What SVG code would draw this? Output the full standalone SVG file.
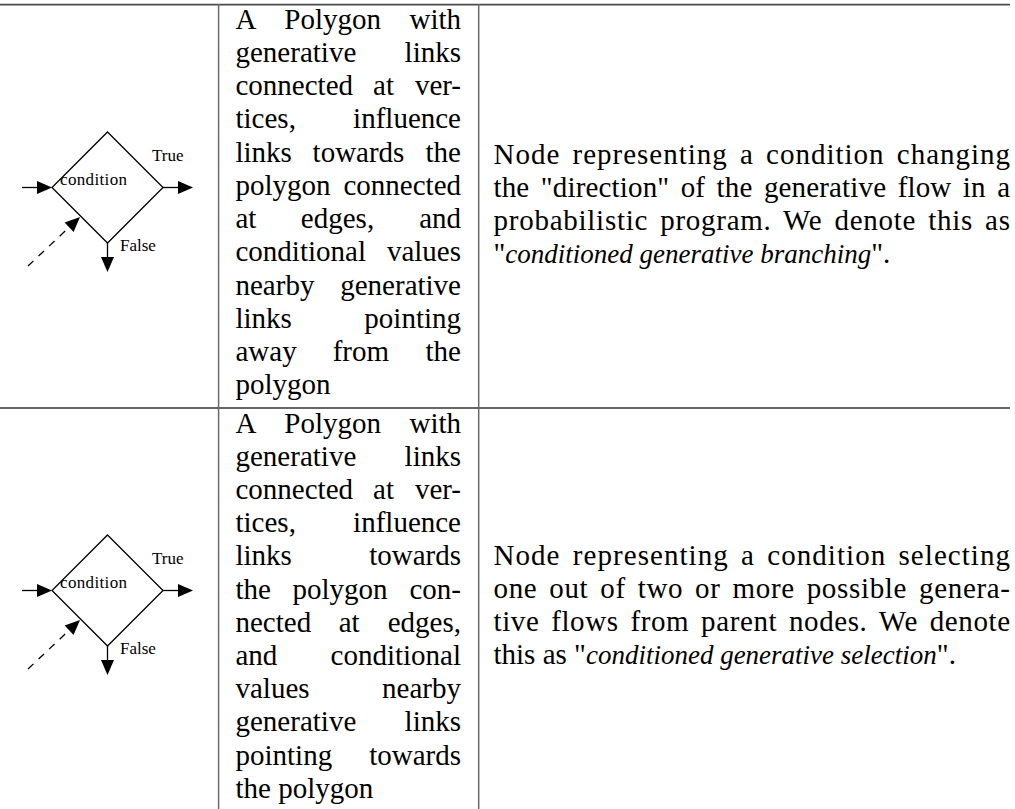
<svg xmlns="http://www.w3.org/2000/svg" width="1015" height="809" viewBox="0 0 1015 809">
  <style>
    .t { font-family: "Liberation Serif", "Times New Roman", serif; font-size: 29px; fill: #000; }
    .e { text-anchor: end; }
    .m { text-anchor: middle; }
    .lbl { font-family: "Liberation Serif", "Times New Roman", serif; font-size: 17px; fill: #000; }
    .it { font-style: italic; font-size: 27px; }
    .rule { stroke: #4a4a4a; stroke-width: 1.6; fill: none; }
    .vrule { stroke: #6a6a6a; stroke-width: 1.5; fill: none; }
    .shape { fill: none; stroke: #000; stroke-width: 1.3; }
    .link { fill: none; stroke: #000; stroke-width: 1.3; marker-end: url(#head); }
    .dash { stroke-dasharray: 7.5 7; }
  </style>
  <defs>
    <marker id="head" markerUnits="userSpaceOnUse" markerWidth="16" markerHeight="14" refX="0" refY="6.5" orient="auto" overflow="visible">
      <path d="M0,0 L15,6.5 L0,13 Z" fill="#000"/>
    </marker>
  </defs>

  <rect width="1015" height="809" fill="#fff"/>

  <!-- table rules -->
  <g id="table">
    <line class="rule" x1="0" y1="4.6" x2="1010" y2="4.6"/>
    <line class="rule" x1="0" y1="408" x2="1010" y2="408" style="stroke:#333"/>
    <line class="vrule" x1="218.6" y1="4" x2="218.6" y2="809"/>
    <line class="vrule" x1="478.7" y1="4" x2="478.7" y2="809"/>
  </g>

  <!-- row 1 symbol: conditioned generative branching -->
  <g id="branch-node">
    <polygon class="shape" points="107.5,132 163,187.5 107.5,243 52,187.5"/>
    <text class="lbl" x="60" y="185" textLength="67">condition</text>
    <text class="lbl" x="152" y="161">True</text>
    <text class="lbl" x="120" y="251">False</text>
  </g>

  <!-- row 2 symbol: conditioned generative selection -->
  <g id="select-node">
    <polygon class="shape" points="107.5,535 163,590.5 107.5,646 52,590.5"/>
    <text class="lbl" x="60" y="588" textLength="67">condition</text>
    <text class="lbl" x="152" y="564">True</text>
    <text class="lbl" x="120" y="654">False</text>
  </g>

  <g id="connectors">
    <!-- row 1 -->
    <line class="link" x1="22" y1="187.5" x2="37" y2="187.5"/>
    <line class="link" x1="163" y1="187.5" x2="178" y2="187.5"/>
    <line class="link" x1="107.5" y1="243" x2="107.5" y2="257"/>
    <line class="link dash" x1="28" y1="266" x2="69.1" y2="227.3"/>
    <!-- row 2 -->
    <line class="link" x1="22" y1="590.5" x2="37" y2="590.5"/>
    <line class="link" x1="163" y1="590.5" x2="178" y2="590.5"/>
    <line class="link" x1="107.5" y1="646" x2="107.5" y2="660"/>
    <line class="link dash" x1="28" y1="669" x2="69.1" y2="630.3"/>
  </g>

  <!-- row 1 visual description -->
  <g id="desc-branch" class="t">
    <text x="235.5" y="28.5">A</text><text class="m" x="332.6" y="28.5">Polygon</text><text class="e" x="461" y="28.5">with</text>
    <text x="235.5" y="61.75">generative</text><text class="e" x="461" y="61.75">links</text>
    <text x="235.5" y="95">connected</text><text class="m" x="383.5" y="95">at</text><text class="e" x="461" y="95">ver-</text>
    <text x="235.5" y="128.25">tices,</text><text class="e" x="461" y="128.25">influence</text>
    <text x="235.5" y="161.5">links</text><text class="m" x="358.5" y="161.5">towards</text><text class="e" x="461" y="161.5">the</text>
    <text x="235.5" y="194.75">polygon</text><text class="e" x="461" y="194.75">connected</text>
    <text x="235.5" y="228">at</text><text class="m" x="337.5" y="228">edges,</text><text class="e" x="461" y="228">and</text>
    <text x="235.5" y="261.25">conditional</text><text class="e" x="461" y="261.25">values</text>
    <text x="235.5" y="294.5">nearby</text><text class="e" x="461" y="294.5">generative</text>
    <text x="235.5" y="327.75">links</text><text class="e" x="461" y="327.75">pointing</text>
    <text x="235.5" y="361">away</text><text class="m" x="360.9" y="361">from</text><text class="e" x="461" y="361">the</text>
    <text x="235.5" y="394.25">polygon</text>
  </g>

  <!-- row 2 visual description -->
  <g id="desc-select" class="t">
    <text x="235.5" y="432.5">A</text><text class="m" x="332.6" y="432.5">Polygon</text><text class="e" x="461" y="432.5">with</text>
    <text x="235.5" y="465.7">generative</text><text class="e" x="461" y="465.7">links</text>
    <text x="235.5" y="498.9">connected</text><text class="m" x="383.5" y="498.9">at</text><text class="e" x="461" y="498.9">ver-</text>
    <text x="235.5" y="532.1">tices,</text><text class="e" x="461" y="532.1">influence</text>
    <text x="235.5" y="565.3">links</text><text class="e" x="461" y="565.3">towards</text>
    <text x="235.5" y="598.5">the</text><text class="m" x="340" y="598.5">polygon</text><text class="e" x="461" y="598.5">con-</text>
    <text x="235.5" y="631.7">nected</text><text class="m" x="349.2" y="631.7">at</text><text class="e" x="461" y="631.7">edges,</text>
    <text x="235.5" y="664.9">and</text><text class="e" x="461" y="664.9">conditional</text>
    <text x="235.5" y="698.1">values</text><text class="e" x="461" y="698.1">nearby</text>
    <text x="235.5" y="731.3">generative</text><text class="e" x="461" y="731.3">links</text>
    <text x="235.5" y="764.5">pointing</text><text class="e" x="461" y="764.5">towards</text>
    <text x="235.5" y="797.7">the polygon</text>
  </g>

  <!-- row 1 meaning -->
  <g id="meaning-branch" class="t">
    <text x="493.5" y="164" textLength="516.5" lengthAdjust="spacing" style="word-spacing:4px">Node representing a condition changing</text>
    <text x="493.5" y="197" textLength="516.5" lengthAdjust="spacing" style="word-spacing:4px">the "direction" of the generative flow in a</text>
    <text x="493.5" y="230" textLength="516.5" lengthAdjust="spacing" style="word-spacing:4px">probabilistic program. We denote this as</text>
    <text x="493.5" y="263">"<tspan class="it">conditioned generative branching</tspan>".</text>
  </g>

  <!-- row 2 meaning -->
  <g id="meaning-select" class="t">
    <text x="493.5" y="565" textLength="516.5" lengthAdjust="spacing" style="word-spacing:4px">Node representing a condition selecting</text>
    <text x="493.5" y="598" textLength="516.5" lengthAdjust="spacing" style="word-spacing:4px">one out of two or more possible genera-</text>
    <text x="493.5" y="631" textLength="516.5" lengthAdjust="spacing" style="word-spacing:4px">tive flows from parent nodes. We denote</text>
    <text x="493.5" y="664">this as "<tspan class="it">conditioned generative selection</tspan>".</text>
  </g>
</svg>
